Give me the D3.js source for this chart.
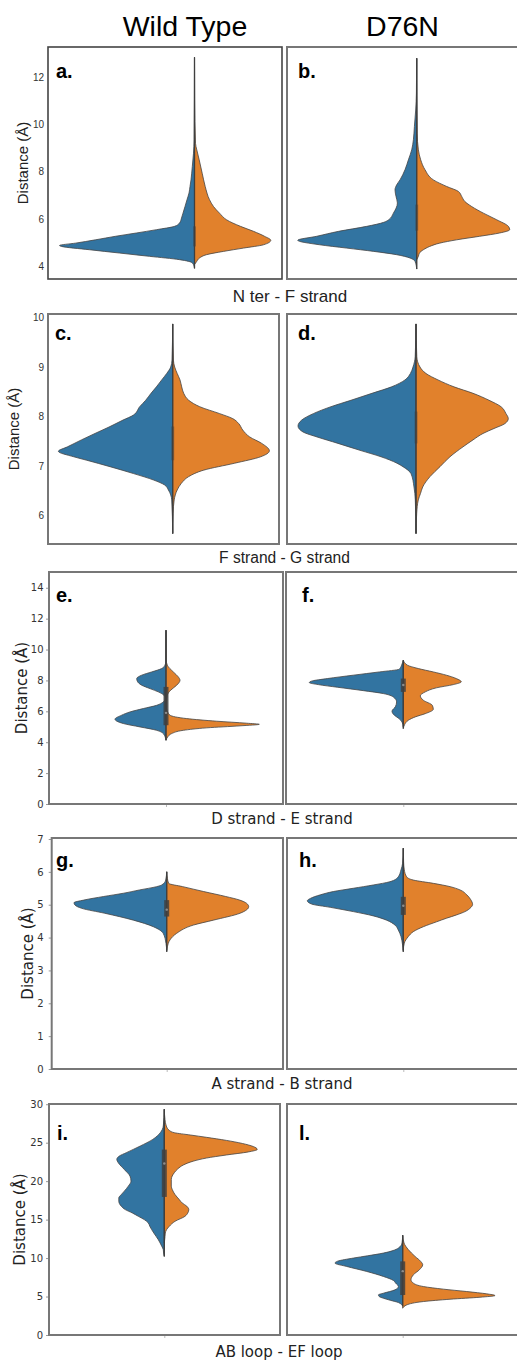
<!DOCTYPE html>
<html>
<head>
<meta charset="utf-8">
<script src="https://cdn.jsdelivr.net/npm/d3@7"></script>
<style>
  html, body { margin: 0; padding: 0; background: #fff; }
  svg { display: block; }
</style>
</head>
<body>
<script>
// ---------------- DATA ----------------
const columnTitles = ["Wild Type", "D76N"];
const pairLabels = ["N ter - F strand", "F strand - G strand", "D strand - E strand", "A strand - B strand", "AB loop - EF loop"];
const panelLetters = [["a.", "b."], ["c.", "d."], ["e.", "f."], ["g.", "h."], ["i.", "l."]];
const yLabel = "Distance (Å)";
const yTicks1 = [4, 6, 8, 10, 12];
const yTicks2 = [6, 7, 8, 9, 10];
const yTicks3 = [0, 2, 4, 6, 8, 10, 12, 14];
const yTicks4 = [0, 1, 2, 3, 4, 5, 6, 7];
const yTicks5 = [0, 5, 10, 15, 20, 25, 30];

// Densities: [distance (Å), relative density]
const aBlue = [[3.90,0],[4.13,0.02],[4.27,0.15],[4.41,0.45],[4.55,0.75],[4.69,1.05],[4.83,1.33],[4.87,1.35],[4.97,1.19],[5.11,0.99],[5.26,0.79],[5.40,0.58],[5.54,0.38],[5.68,0.2],[5.82,0.15],[6.03,0.13],[6.24,0.115],[6.52,0.095],[6.81,0.075],[7.09,0.055],[7.37,0.045],[7.65,0.035],[8.22,0.022],[8.78,0.01],[9.35,0.004],[12.84,0]];
const aOrange = [[4.06,0],[4.20,0.023],[4.34,0.05],[4.48,0.12],[4.62,0.29],[4.76,0.49],[4.90,0.69],[5.09,0.763],[5.26,0.70],[5.47,0.59],[5.68,0.46],[5.96,0.32],[6.24,0.25],[6.52,0.19],[6.81,0.15],[7.37,0.107],[7.93,0.077],[8.50,0.047],[8.92,0.023],[9.20,0.01],[11.04,0.002],[12.84,0]];
const bBlue = [[3.87,0],[4.20,0.017],[4.34,0.067],[4.48,0.20],[4.62,0.43],[4.76,0.70],[4.90,0.97],[5.09,1.19],[5.26,1.0],[5.47,0.78],[5.68,0.5],[5.85,0.33],[5.96,0.28],[6.24,0.233],[6.67,0.193],[6.95,0.207],[7.23,0.217],[7.44,0.20],[7.65,0.167],[8.08,0.117],[8.50,0.083],[8.92,0.05],[9.35,0.033],[9.91,0.023],[10.61,0.01],[11.32,0.003],[12.80,0]];
const bOrange = [[4.27,0],[4.41,0.017],[4.55,0.027],[4.69,0.067],[4.83,0.13],[4.97,0.23],[5.11,0.40],[5.26,0.63],[5.40,0.83],[5.54,0.93],[5.68,0.917],[5.96,0.80],[6.24,0.667],[6.52,0.55],[6.74,0.48],[6.95,0.45],[7.16,0.417],[7.37,0.30],[7.65,0.167],[8.08,0.083],[8.50,0.04],[8.92,0.017],[9.63,0.005],[12.80,0]];
const cBlue = [[5.64,0],[6.32,0.01],[6.52,0.043],[6.62,0.08],[6.72,0.19],[6.85,0.39],[6.99,0.627],[7.12,0.86],[7.19,0.99],[7.30,1.143],[7.39,1.053],[7.53,0.913],[7.66,0.777],[7.79,0.637],[7.93,0.497],[8.03,0.393],[8.20,0.33],[8.33,0.27],[8.47,0.217],[8.60,0.163],[8.74,0.11],[8.87,0.06],[9.00,0.02],[9.14,0.007],[9.87,0]];
const cOrange = [[5.64,0],[6.05,0.004],[6.32,0.015],[6.52,0.045],[6.65,0.085],[6.79,0.16],[6.92,0.31],[7.06,0.62],[7.19,0.88],[7.31,0.967],[7.46,0.89],[7.59,0.77],[7.73,0.70],[7.86,0.66],[7.96,0.60],[8.06,0.47],[8.20,0.27],[8.33,0.16],[8.47,0.11],[8.60,0.09],[8.74,0.073],[8.87,0.045],[9.00,0.02],[9.14,0.007],[9.87,0]];
const dBlue = [[5.64,0],[6.32,0.007],[6.58,0.02],[6.85,0.05],[6.99,0.13],[7.06,0.19],[7.19,0.35],[7.32,0.56],[7.46,0.78],[7.59,0.99],[7.69,1.13],[7.81,1.18],[7.93,1.143],[8.06,1.027],[8.20,0.85],[8.33,0.65],[8.47,0.44],[8.60,0.245],[8.74,0.11],[8.87,0.056],[9.00,0.03],[9.21,0.008],[9.87,0]];
const dOrange = [[5.64,0],[6.05,0.007],[6.32,0.023],[6.45,0.045],[6.58,0.067],[6.79,0.14],[6.99,0.24],[7.19,0.34],[7.39,0.47],[7.53,0.57],[7.66,0.67],[7.76,0.78],[7.86,0.89],[7.96,0.923],[8.06,0.90],[8.20,0.85],[8.33,0.73],[8.47,0.57],[8.60,0.38],[8.74,0.22],[8.87,0.1],[9.00,0.04],[9.21,0.008],[9.87,0]];
const eBlue = [[4.13,0],[4.56,0.027],[4.77,0.093],[4.99,0.26],[5.21,0.427],[5.49,0.51],[5.75,0.443],[5.96,0.36],[6.18,0.227],[6.39,0.093],[6.61,0.027],[6.80,0.01],[6.93,0.01],[7.04,0.02],[7.26,0.077],[7.47,0.16],[7.69,0.243],[7.95,0.287],[8.12,0.293],[8.34,0.243],[8.55,0.143],[8.77,0.043],[8.99,0.01],[9.20,0.003],[11.25,0]];
const eOrange = [[4.13,0],[4.34,0.017],[4.56,0.057],[4.77,0.173],[4.93,0.407],[5.06,0.74],[5.16,0.933],[5.23,0.807],[5.36,0.507],[5.53,0.207],[5.75,0.04],[5.96,0.017],[6.18,0.007],[6.61,0.007],[7.04,0.013],[7.37,0.047],[7.69,0.107],[8.01,0.14],[8.23,0.123],[8.55,0.073],[8.99,0.013],[9.30,0.003],[11.25,0]];
const fBlue = [[4.99,0],[5.31,0.013],[5.53,0.043],[5.75,0.09],[6.01,0.113],[6.29,0.08],[6.61,0.067],[6.93,0.10],[7.15,0.20],[7.34,0.40],[7.56,0.66],[7.73,0.85],[7.86,0.94],[7.97,0.91],[8.12,0.76],[8.34,0.50],[8.55,0.24],[8.73,0.04],[8.99,0.017],[9.31,0]];
const fOrange = [[4.88,0],[5.14,0.013],[5.42,0.05],[5.64,0.12],[5.85,0.22],[6.13,0.30],[6.39,0.29],[6.72,0.20],[7.00,0.17],[7.26,0.22],[7.52,0.33],[7.73,0.50],[7.91,0.58],[8.12,0.53],[8.34,0.43],[8.55,0.30],[8.77,0.15],[8.99,0.04],[9.31,0]];
const gBlue = [[3.62,0],[3.82,0.007],[4.13,0.035],[4.33,0.133],[4.53,0.333],[4.74,0.62],[4.89,0.85],[4.99,0.917],[5.06,0.927],[5.14,0.83],[5.25,0.63],[5.35,0.43],[5.45,0.27],[5.55,0.1],[5.60,0.05],[5.75,0.01],[6.0,0]];
const gOrange = [[3.57,0],[3.72,0.007],[3.93,0.033],[4.13,0.1],[4.38,0.267],[4.53,0.467],[4.74,0.733],[4.94,0.82],[5.04,0.80],[5.14,0.73],[5.25,0.59],[5.40,0.37],[5.55,0.16],[5.65,0.02],[5.80,0.007],[6.0,0]];
const hBlue = [[3.57,0],[3.77,0.007],[4.03,0.023],[4.23,0.05],[4.38,0.083],[4.53,0.167],[4.66,0.30],[4.79,0.50],[4.92,0.73],[5.02,0.917],[5.12,0.96],[5.19,0.93],[5.30,0.83],[5.40,0.70],[5.50,0.50],[5.60,0.30],[5.70,0.133],[5.85,0.05],[6.06,0.023],[6.26,0.007],[6.72,0]];
const hOrange = [[3.62,0],[3.83,0.01],[4.03,0.05],[4.18,0.10],[4.33,0.20],[4.48,0.333],[4.59,0.433],[4.69,0.533],[4.79,0.617],[4.92,0.677],[5.01,0.693],[5.15,0.675],[5.30,0.635],[5.45,0.567],[5.55,0.467],[5.65,0.30],[5.75,0.10],[5.85,0.033],[6.06,0.01],[6.30,0.003],[6.72,0]];
const iBlue = [[10.22,0],[10.65,0.007],[11.09,0.01],[11.52,0.025],[12.39,0.06],[13.26,0.105],[14.13,0.145],[14.57,0.16],[15.0,0.2],[15.43,0.26],[15.87,0.32],[16.3,0.39],[16.74,0.43],[17.4,0.455],[17.83,0.455],[18.26,0.43],[18.7,0.40],[19.35,0.36],[20.0,0.333],[20.65,0.343],[21.52,0.40],[22.39,0.46],[22.83,0.475],[23.26,0.45],[23.7,0.38],[24.13,0.31],[24.57,0.24],[25.43,0.115],[26.30,0.04],[27.17,0.01],[29.35,0]];
const iOrange = [[11.96,0],[12.8,0.007],[13.26,0.01],[13.7,0.023],[14.13,0.05],[14.78,0.107],[15.43,0.207],[15.87,0.235],[16.3,0.245],[16.74,0.225],[17.17,0.178],[17.6,0.15],[18.26,0.107],[18.9,0.08],[19.35,0.07],[20.22,0.07],[21.1,0.1],[21.6,0.135],[22.1,0.19],[22.6,0.29],[23.0,0.42],[23.4,0.62],[23.8,0.84],[24.13,0.93],[24.5,0.89],[24.9,0.78],[25.3,0.62],[25.7,0.42],[26.0,0.26],[26.3,0.10],[26.6,0.05],[27.17,0.02],[28.0,0.007],[29.35,0]];
const lBlue = [[3.75,0],[4.22,0.043],[4.5,0.12],[4.78,0.193],[5.0,0.235],[5.22,0.243],[5.43,0.193],[5.87,0.077],[6.30,0.043],[6.74,0.07],[7.09,0.093],[7.61,0.193],[8.26,0.36],[8.91,0.56],[9.35,0.677],[9.6,0.65],[10.0,0.493],[10.3,0.35],[10.65,0.193],[11.3,0.043],[11.96,0.007],[12.96,0]];
const lOrange = [[3.48,0],[3.91,0.04],[4.35,0.207],[4.65,0.473],[4.91,0.773],[5.13,0.923],[5.35,0.84],[5.65,0.64],[5.96,0.407],[6.30,0.207],[6.74,0.107],[7.17,0.083],[7.83,0.107],[8.48,0.167],[9.13,0.20],[9.57,0.18],[10.22,0.123],[11.09,0.057],[11.96,0.013],[12.96,0]];

// Box summaries: [q1, median, q3]; ranges: [min, max]
const aBox = [4.83, 5.1, 5.68], aRange = [3.90, 12.84];
const bBox = [5.5, 5.9, 6.6],   bRange = [3.87, 12.80];
const cBox = [7.12, 7.45, 7.8], cRange = [5.64, 9.87];
const dBox = [7.46, 7.8, 8.1],  dRange = [5.64, 9.87];
const eBox = [5.1, 5.9, 7.58],  eRange = [4.13, 11.25];
const fBox = [7.26, 7.7, 8.12], fRange = [4.88, 9.31];
const gBox = [4.64, 4.85, 5.14], gRange = [3.57, 6.0];
const hBox = [4.69, 4.97, 5.24], hRange = [3.57, 6.72];
const iBox = [17.95, 22.3, 24.1], iRange = [10.22, 29.35];
const lBox = [5.2, 8.3, 9.57],  lRange = [3.75, 12.96];

// ---------------- LAYOUT ----------------
const W = 517, H = 1363;
const blue = "#3274a1", orange = "#e1812c", ink = "#3f3f3f";
const arial = "'Liberation Sans', Arial, sans-serif";
const dejavu = "'DejaVu Sans', sans-serif";

const panelData = [
  [{b: aBlue, o: aOrange, box: aBox, r: aRange}, {b: bBlue, o: bOrange, box: bBox, r: bRange}],
  [{b: cBlue, o: cOrange, box: cBox, r: cRange}, {b: dBlue, o: dOrange, box: dBox, r: dRange}],
  [{b: eBlue, o: eOrange, box: eBox, r: eRange}, {b: fBlue, o: fOrange, box: fBox, r: fRange}],
  [{b: gBlue, o: gOrange, box: gBox, r: gRange}, {b: hBlue, o: hOrange, box: hBox, r: hRange}],
  [{b: iBlue, o: iOrange, box: iBox, r: iRange}, {b: lBlue, o: lOrange, box: lBox, r: lRange}]
];
const rowTicks = [yTicks1, yTicks2, yTicks3, yTicks4, yTicks5];

const rows = [
  {top: 47,  bottom: 279,  left: [48, 287],   right: [282, 519], cx: [194.5, 416.7], dom: [3.45, 13.28], font: arial,  tick: 0, pad: 4,   boxW: 3, boxOp: 0.45, ylx: 27.5, xl: [290, 302, 17],  lx: [56, 298], ly: 78},
  {top: 314, bottom: 544,  left: [48, 287],   right: [279, 519], cx: [172.7, 416],   dom: [5.43, 10.07], font: arial,  tick: 0, pad: 4,   boxW: 3, boxOp: 0.45, ylx: 19,   xl: [284.5, 563, 15.6], lx: [55, 298], ly: 340},
  {top: 572, bottom: 804,  left: [49, 286],   right: [283, 519], cx: [166, 403.3],   dom: [0, 15.02],    font: dejavu, tick: 3, pad: 2.5, boxW: 5, boxOp: 0.85, ylx: 27,   xl: [282, 824, 15],  lx: [56, 302], ly: 602},
  {top: 838, bottom: 1069, left: [51.7, 287], right: [283, 519], cx: [166.7, 403.3], dom: [0, 7.03],     font: dejavu, tick: 3, pad: 5,   boxW: 5, boxOp: 0.85, ylx: 33,   xl: [282, 1089, 15], lx: [56, 299], ly: 867},
  {top: 1104, bottom: 1335, left: [49, 287],  right: [280, 519], cx: [164.3, 402.7], dom: [0, 30.03],    font: dejavu, tick: 3, pad: 3,   boxW: 5, boxOp: 0.85, ylx: 25,   xl: [279, 1357, 15], lx: [57, 299], ly: 1140}
];

const svg = d3.select("body").append("svg").attr("width", W).attr("height", H);
svg.append("rect").attr("width", W).attr("height", H).attr("fill", "#fff");

// Column titles
const titleX = [185, 402.5];
columnTitles.forEach((t, i) => {
  svg.append("text").attr("x", titleX[i]).attr("y", 36)
    .attr("text-anchor", "middle").attr("font-family", arial)
    .attr("font-size", 28.5).attr("fill", "#000").text(t);
});

const dens = d3.scaleLinear().domain([0, 1]).range([0, 100]);

rows.forEach((row, ri) => {
  const y = d3.scaleLinear().domain(row.dom).range([row.bottom, row.top]);
  const g = svg.append("g");

  // Y axis
  const ax = g.append("g").attr("transform", `translate(${row.left[0]},0)`)
    .call(d3.axisLeft(y).tickValues(rowTicks[ri]).tickSize(row.tick).tickPadding(row.pad).tickFormat(d3.format("d")));
  ax.select(".domain").remove();
  ax.selectAll(".tick line").attr("stroke", "#999");
  ax.selectAll(".tick text").attr("font-family", row.font).attr("font-size", 10).attr("fill", "#333");

  // Y label
  g.append("text")
    .attr("transform", `translate(${row.ylx},${(row.top + row.bottom) / 2}) rotate(-90)`)
    .attr("text-anchor", "middle").attr("font-family", row.font).attr("font-size", 15)
    .attr("fill", "#222").text(yLabel);

  // X label
  g.append("text").attr("x", row.xl[0]).attr("y", row.xl[1])
    .attr("text-anchor", "middle").attr("font-family", row.font).attr("font-size", row.xl[2])
    .attr("fill", "#222").text(pairLabels[ri]);

  [0, 1].forEach(ci => {
    const pd = panelData[ri][ci];
    const cx = row.cx[ci];
    const pg = g.append("g");

    // x tick at the category position
    if (row.tick > 0) {
      const xs = d3.scalePoint().domain([pairLabels[ri]]).range([cx, cx]);
      const xa = pg.append("g").attr("transform", `translate(0,${row.bottom})`)
        .call(d3.axisBottom(xs).tickSize(3).tickFormat(""));
      xa.select(".domain").remove();
      xa.selectAll(".tick line").attr("stroke", "#bbb");
    }

    const half = (data, sign, color) => {
      const pts = data.slice().sort((p, q) => q[0] - p[0]);
      const area = d3.area()
        .y(d => y(d[0]))
        .x0(cx)
        .x1(d => cx + sign * dens(d[1]))
        .curve(d3.curveMonotoneY);
      pg.append("path").attr("d", area(pts))
        .attr("fill", color).attr("stroke", "#444").attr("stroke-width", 0.8)
        .attr("stroke-linejoin", "round");
    };
    half(pd.b, -1, blue);
    half(pd.o, 1, orange);

    // center whisker line
    pg.append("line").attr("x1", cx).attr("x2", cx)
      .attr("y1", y(pd.r[0])).attr("y2", y(pd.r[1]))
      .attr("stroke", ink).attr("stroke-width", 1.3);
    // IQR box
    pg.append("rect").attr("x", cx - row.boxW / 2).attr("width", row.boxW)
      .attr("y", y(pd.box[2])).attr("height", y(pd.box[0]) - y(pd.box[2]))
      .attr("fill", ink).attr("opacity", row.boxOp);
    if (row.tick > 0) {
      pg.append("circle").attr("cx", cx).attr("cy", y(pd.box[1])).attr("r", 1.2)
        .attr("fill", "#fff").attr("opacity", 0.4);
    }

    // frame
    pg.append("rect").attr("x", row.left[ci]).attr("y", row.top)
      .attr("width", row.right[ci] - row.left[ci]).attr("height", row.bottom - row.top)
      .attr("fill", "none").attr("stroke", (ri === 0 && ci === 0) ? "#444" : "#777")
      .attr("stroke-width", (ri === 0 && ci === 0) ? 1.6 : 2);

    // panel letter
    pg.append("text").attr("x", row.lx[ci]).attr("y", row.ly)
      .attr("font-family", arial).attr("font-weight", "bold").attr("font-size", 20)
      .attr("fill", "#000").text(panelLetters[ri][ci]);
  });
});
</script>
</body>
</html>
